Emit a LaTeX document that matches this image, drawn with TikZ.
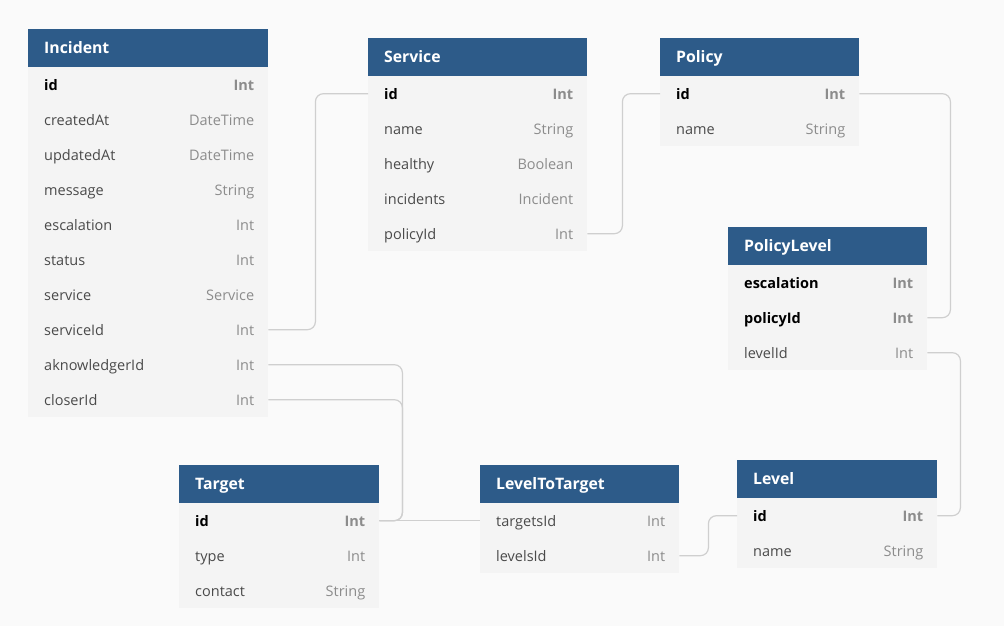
\documentclass[tikz,border=0pt]{standalone}
\usepackage{fontspec}
\setmainfont{Open Sans}
\usetikzlibrary{positioning}
\definecolor{headblue}{HTML}{2D5B89}
\definecolor{rowgray}{HTML}{F4F4F4}
\definecolor{bggray}{HTML}{FAFAFA}
\definecolor{linkgray}{HTML}{CFCFCF}
\definecolor{namegray}{HTML}{4A4A4A}
\definecolor{typegray}{HTML}{8C8C8C}
\newcommand{\fz}{\fontsize{14.5}{16}\selectfont}
\tikzset{
  tblhead/.style={fill=headblue, inner sep=0pt, minimum height=38pt, anchor=north west},
  headtext/.style={text=white, font=\fontsize{15.8}{18}\selectfont\bfseries, anchor=base west, inner sep=0pt},
  tblrow/.style={fill=rowgray, inner sep=0pt, minimum height=35pt, anchor=north west},
  f-key/.style={text=black, font=\fz\bfseries, anchor=base west, inner sep=0pt},
  f-plain/.style={text=namegray, font=\fz, anchor=base west, inner sep=0pt},
  t-key/.style={text=typegray, font=\fz\bfseries, anchor=base east, inner sep=0pt},
  t-plain/.style={text=typegray, font=\fz, anchor=base east, inner sep=0pt},
  link/.style={draw=linkgray, line width=1.2pt, rounded corners=8pt}
}
\begin{document}
\begin{tikzpicture}[x=1pt, y=-1pt]
\fill[bggray] (0,0) rectangle (1004,626);
\useasboundingbox (0,0) rectangle (1004,626);
% Incident
\node[tblhead, minimum width=240pt] (incident) at (28,29) {};
\node[headtext] at ([xshift=16pt,yshift=-5.5pt]incident.west) {Incident};
\foreach \f/\t/\s [count=\i from 0] in {id/Int/key, createdAt/DateTime/plain, updatedAt/DateTime/plain,
    message/String/plain, escalation/Int/plain, status/Int/plain, service/Service/plain,
    serviceId/Int/plain, aknowledgerId/Int/plain, closerId/Int/plain}{
  \node[tblrow, minimum width=240pt] (incident-\f) at (28,67+35*\i) {};
  \node[f-\s] at ([xshift=16pt,yshift=-6pt]incident-\f.west) {\f};
  \node[t-\s] at ([xshift=-14pt,yshift=-6pt]incident-\f.east) {\t};
}
% Service
\node[tblhead, minimum width=219pt] (service) at (368,38) {};
\node[headtext] at ([xshift=16pt,yshift=-5.5pt]service.west) {Service};
\foreach \f/\t/\s [count=\i from 0] in {id/Int/key, name/String/plain, healthy/Boolean/plain,
    incidents/Incident/plain, policyId/Int/plain}{
  \node[tblrow, minimum width=219pt] (service-\f) at (368,76+35*\i) {};
  \node[f-\s] at ([xshift=16pt,yshift=-6pt]service-\f.west) {\f};
  \node[t-\s] at ([xshift=-14pt,yshift=-6pt]service-\f.east) {\t};
}
% Policy
\node[tblhead, minimum width=199pt] (policy) at (660,38) {};
\node[headtext] at ([xshift=16pt,yshift=-5.5pt]policy.west) {Policy};
\foreach \f/\t/\s [count=\i from 0] in {id/Int/key, name/String/plain}{
  \node[tblrow, minimum width=199pt] (policy-\f) at (660,76+35*\i) {};
  \node[f-\s] at ([xshift=16pt,yshift=-6pt]policy-\f.west) {\f};
  \node[t-\s] at ([xshift=-14pt,yshift=-6pt]policy-\f.east) {\t};
}
% PolicyLevel
\node[tblhead, minimum width=199pt] (policylevel) at (728,227) {};
\node[headtext] at ([xshift=16pt,yshift=-5.5pt]policylevel.west) {PolicyLevel};
\foreach \f/\t/\s [count=\i from 0] in {escalation/Int/key, policyId/Int/key, levelId/Int/plain}{
  \node[tblrow, minimum width=199pt] (policylevel-\f) at (728,265+35*\i) {};
  \node[f-\s] at ([xshift=16pt,yshift=-6pt]policylevel-\f.west) {\f};
  \node[t-\s] at ([xshift=-14pt,yshift=-6pt]policylevel-\f.east) {\t};
}
% Target
\node[tblhead, minimum width=200pt] (target) at (179,465) {};
\node[headtext] at ([xshift=16pt,yshift=-5.5pt]target.west) {Target};
\foreach \f/\t/\s [count=\i from 0] in {id/Int/key, type/Int/plain, contact/String/plain}{
  \node[tblrow, minimum width=200pt] (target-\f) at (179,503+35*\i) {};
  \node[f-\s] at ([xshift=16pt,yshift=-6pt]target-\f.west) {\f};
  \node[t-\s] at ([xshift=-14pt,yshift=-6pt]target-\f.east) {\t};
}
% LevelToTarget
\node[tblhead, minimum width=199pt] (leveltotarget) at (480,465) {};
\node[headtext] at ([xshift=16pt,yshift=-5.5pt]leveltotarget.west) {LevelToTarget};
\foreach \f/\t/\s [count=\i from 0] in {targetsId/Int/plain, levelsId/Int/plain}{
  \node[tblrow, minimum width=199pt] (leveltotarget-\f) at (480,503+35*\i) {};
  \node[f-\s] at ([xshift=16pt,yshift=-6pt]leveltotarget-\f.west) {\f};
  \node[t-\s] at ([xshift=-14pt,yshift=-6pt]leveltotarget-\f.east) {\t};
}
% Level
\node[tblhead, minimum width=200pt] (level) at (737,460) {};
\node[headtext] at ([xshift=16pt,yshift=-5.5pt]level.west) {Level};
\foreach \f/\t/\s [count=\i from 0] in {id/Int/key, name/String/plain}{
  \node[tblrow, minimum width=200pt] (level-\f) at (737,498+35*\i) {};
  \node[f-\s] at ([xshift=16pt,yshift=-6pt]level-\f.west) {\f};
  \node[t-\s] at ([xshift=-14pt,yshift=-6pt]level-\f.east) {\t};
}
% relations
\draw[link] (incident-serviceId.east) -- ++(47,0) |- (service-id.west);
\draw[link] (service-policyId.east) -- ++(35,0) |- (policy-id.west);
\draw[link] (policy-id.east) -- ++(91,0) |- (policylevel-policyId.east);
\draw[link] (policylevel-levelId.east) -- ++(33,0) |- (level-id.east);
\draw[link] (incident-aknowledgerId.east) -- ++(134,0) |- (target-id.east);
\draw[link] (incident-closerId.east) -- ++(134,0) |- (target-id.east);
\draw[link] (target-id.east) -- (leveltotarget-targetsId.west);
\draw[link] (leveltotarget-levelsId.east) -- ++(29,0) |- (level-id.west);
\end{tikzpicture}
\end{document}
